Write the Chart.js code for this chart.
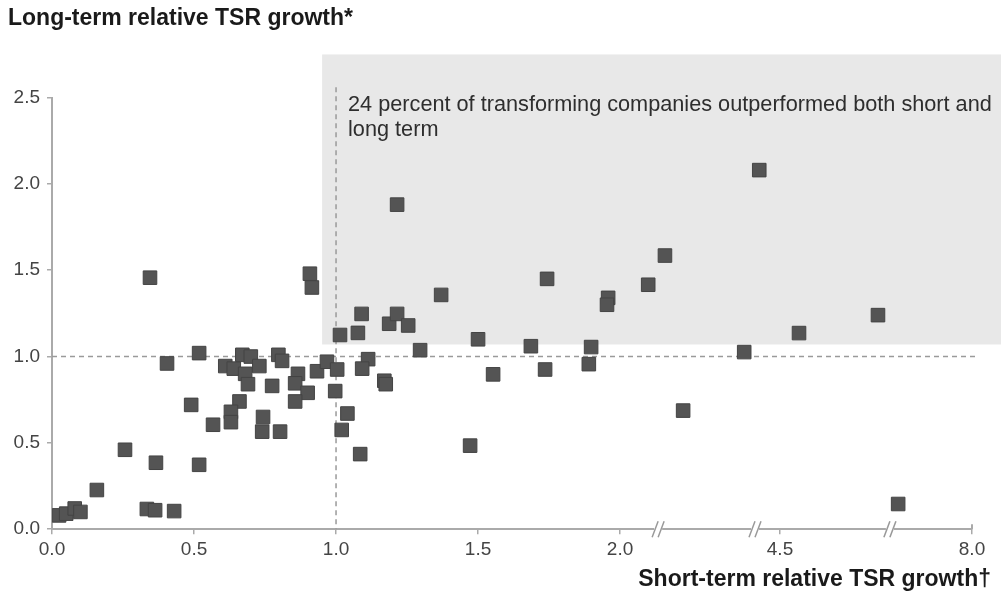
<!DOCTYPE html>
<html>
<head>
<meta charset="utf-8">
<script src="https://cdn.jsdelivr.net/npm/chart.js"></script>
<style>
  html, body { margin: 0; padding: 0; background: #fff; }
  #wrap { width: 1001px; height: 599px; position: relative; }
</style>
</head>
<body>
<div id="wrap"><canvas id="tsrChart"></canvas></div>
<script>
    // x values are positions on the broken axis: 0-2.0 is true scale,
    // past 2.0 the axis is compressed (tick 4.5 sits at 2.563, tick 8.0 at 3.239)
    const shortTermTSR = [
        0.025, 0.05, 0.08, 0.1, 0.158, 0.257, 0.334, 0.363, 0.366, 0.43,
        0.405, 0.345, 0.518, 0.49, 0.518, 0.567, 0.61, 0.64, 0.67, 0.70,
        0.73, 0.68, 0.69, 0.66, 0.63, 0.63, 0.775, 0.797, 0.81, 0.743,
        0.74, 0.803, 0.866, 0.856, 0.90, 0.856, 0.933, 0.968, 1.004, 0.997,
        1.04, 1.02, 1.085, 1.014, 1.077, 1.09, 1.113, 1.092, 1.17, 1.175,
        1.187, 1.215, 1.254, 1.296, 1.5, 1.553, 1.472, 1.215, 0.908, 0.915,
        1.37, 1.743, 2.158, 2.099, 1.958, 1.954, 2.49, 1.686, 1.736, 1.898,
        1.89, 2.222, 2.437, 2.63, 2.908, 2.979
    ];
    const longTermTSR = [
        0.08, 0.09, 0.12, 0.10, 0.227, 0.46, 0.117, 0.11, 0.385, 0.105,
        0.96, 1.457, 1.02, 0.72, 0.373, 0.605, 0.945, 0.93, 1.01, 1.00,
        0.945, 0.90, 0.84, 0.74, 0.68, 0.62, 0.83, 1.01, 0.975, 0.65,
        0.565, 0.565, 0.90, 0.845, 0.79, 0.74, 0.915, 0.97, 0.925, 0.80,
        0.67, 0.575, 0.435, 1.125, 1.137, 1.247, 0.985, 0.93, 0.86, 0.84,
        1.19, 1.247, 1.18, 1.037, 1.10, 0.897, 0.484, 1.88, 1.48, 1.40,
        1.357, 1.45, 1.585, 1.416, 1.34, 1.30, 2.08, 1.06, 0.925, 1.055,
        0.956, 0.687, 1.026, 1.136, 1.24, 0.146
    ];

    const xTickValues = [0, 0.5, 1, 1.5, 2, 2.563, 3.239];
    const xTickLabels = ['0.0', '0.5', '1.0', '1.5', '2.0', '4.5', '8.0'];
    const axisBreaks = [2.134, 2.475, 2.95];
    const benchmark = 1.0;
    const outperformZone = { xFrom: 0.951, yFrom: 1.07, yTo: 2.75 };
    const noteLines = ['24 percent of transforming companies outperformed both short and', 'long term'];
    const xAxisTitle = 'Short-term relative TSR growth\u2020';

    const fontFamily = '"Liberation Sans", Arial, Helvetica, sans-serif';

    // shaded zone, benchmark lines, the note, axis breaks and x title
    const backdropPlugin = {
        id: 'backdrop',
        beforeDatasetsDraw(chart) {
            const { ctx, chartArea, scales: { x, y } } = chart;
            ctx.save();

            ctx.fillStyle = '#e8e8e8';
            const zx = x.getPixelForValue(outperformZone.xFrom);
            const zTop = y.getPixelForValue(outperformZone.yTo);
            const zBottom = y.getPixelForValue(outperformZone.yFrom);
            ctx.fillRect(zx, zTop, chart.width - zx, zBottom - zTop);

            ctx.strokeStyle = '#9a9a9a';
            ctx.lineWidth = 1.5;
            ctx.setLineDash([5, 4]);
            const by = y.getPixelForValue(benchmark);
            ctx.beginPath();
            ctx.moveTo(chartArea.left, by);
            ctx.lineTo(chartArea.right + 6, by);
            ctx.stroke();
            const bx = x.getPixelForValue(benchmark);
            ctx.beginPath();
            ctx.moveTo(bx, y.getPixelForValue(2.56));
            ctx.lineTo(bx, chartArea.bottom);
            ctx.stroke();
            ctx.setLineDash([]);

            ctx.fillStyle = '#2e2e2e';
            ctx.font = '21.7px ' + fontFamily;
            ctx.textBaseline = 'middle';
            ctx.textAlign = 'left';
            const ty = y.getPixelForValue(2.5) + 7;
            noteLines.forEach(function(line, i) {
                ctx.fillText(line, bx + 12, ty + i * 25);
            });
            ctx.restore();
        },
        afterDraw(chart) {
            const { ctx, chartArea, scales: { x } } = chart;
            ctx.save();
            const ay = chartArea.bottom;
            // end cap of the axis
            ctx.strokeStyle = '#aaaaaa';
            ctx.lineWidth = 2;
            ctx.beginPath();
            ctx.moveTo(chartArea.right, ay);
            ctx.lineTo(chartArea.right, ay - 5);
            ctx.stroke();
            // "//" break marks
            axisBreaks.forEach(function(v) {
                const px = x.getPixelForValue(v);
                ctx.fillStyle = '#ffffff';
                ctx.fillRect(px - 4, ay - 2, 8, 4);
                ctx.strokeStyle = '#999999';
                ctx.lineWidth = 1.5;
                [-3, 3].forEach(function(off) {
                    ctx.beginPath();
                    ctx.moveTo(px + off - 3, ay + 8);
                    ctx.lineTo(px + off + 3, ay - 8);
                    ctx.stroke();
                });
            });
            // x axis title, right-aligned past the axis end like the original
            ctx.fillStyle = '#1a1a1a';
            ctx.font = 'bold 23px ' + fontFamily;
            ctx.textAlign = 'right';
            ctx.textBaseline = 'middle';
            ctx.fillText(xAxisTitle, chart.width - 10, 580);
            ctx.restore();
        }
    };

    function createChart() {
        const ctx = document.getElementById('tsrChart').getContext('2d');
        const points = shortTermTSR.map(function(v, i) {
            return { x: v, y: longTermTSR[i] };
        });

        new Chart(ctx, {
            type: 'scatter',
            data: {
                datasets: [{
                    label: 'Companies',
                    data: points,
                    pointStyle: 'rect',
                    pointRadius: 9.6,
                    pointHoverRadius: 9.6,
                    backgroundColor: '#545454',
                    borderColor: '#444444',
                    borderWidth: 1
                }]
            },
            options: {
                responsive: true,
                maintainAspectRatio: false,
                animation: false,
                layout: { padding: { left: 8, right: 29, top: 0, bottom: 34 } },
                plugins: {
                    legend: { display: false },
                    tooltip: { enabled: false },
                    title: {
                        display: true,
                        text: 'Long-term relative TSR growth*',
                        align: 'start',
                        color: '#1a1a1a',
                        font: { size: 23, weight: 'bold', family: fontFamily },
                        padding: { top: 5, bottom: 65 }
                    }
                },
                scales: {
                    x: {
                        type: 'linear',
                        min: 0,
                        max: 3.239,
                        afterBuildTicks: function(scale) {
                            scale.ticks = xTickValues.map(function(v) { return { value: v }; });
                        },
                        ticks: {
                            autoSkip: false,
                            maxRotation: 0,
                            padding: 4,
                            color: '#444444',
                            font: { size: 19, family: fontFamily },
                            callback: function(value) {
                                const i = xTickValues.indexOf(value);
                                return i >= 0 ? xTickLabels[i] : '';
                            }
                        },
                        grid: {
                            drawOnChartArea: false,
                            drawTicks: true,
                            tickLength: 5,
                            color: '#aaaaaa',
                            lineWidth: 1.5
                        },
                        border: { display: true, color: '#aaaaaa', width: 2 }
                    },
                    y: {
                        min: 0,
                        max: 2.5,
                        afterFit: function(scale) { scale.width = 44; },
                        ticks: {
                            stepSize: 0.5,
                            padding: 7,
                            color: '#444444',
                            font: { size: 19, family: fontFamily },
                            callback: function(value) { return value.toFixed(1); }
                        },
                        grid: {
                            drawOnChartArea: false,
                            drawTicks: true,
                            tickLength: 5,
                            color: '#aaaaaa',
                            lineWidth: 1.5
                        },
                        border: { display: true, color: '#aaaaaa', width: 2 }
                    }
                }
            },
            plugins: [backdropPlugin]
        });
    }

    document.addEventListener('DOMContentLoaded', function() {
        createChart();
    });
</script>
</body>
</html>
